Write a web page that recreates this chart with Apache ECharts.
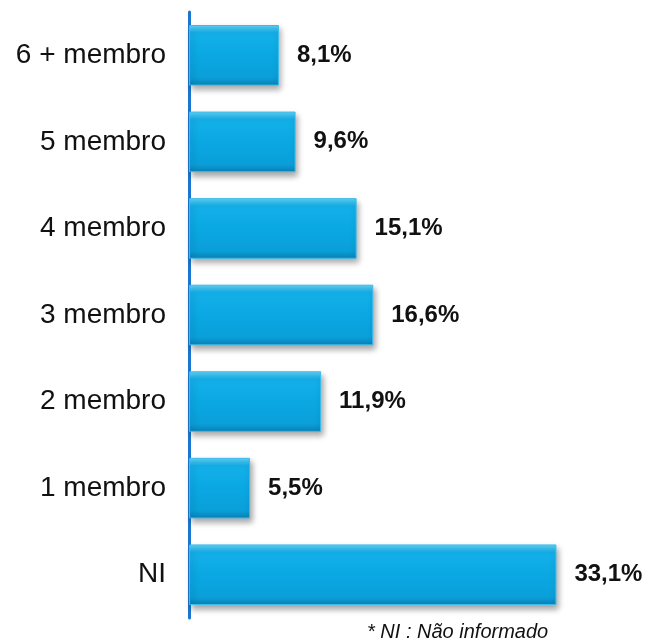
<!DOCTYPE html>
<html>
<head>
<meta charset="utf-8">
<script src="https://cdn.jsdelivr.net/npm/echarts@6/dist/echarts.min.js"></script>
<style>
  html, body { margin: 0; padding: 0; background: #fff; }
  #chart { width: 651px; height: 644px; }
</style>
</head>
<body>
<div id="chart"></div>
<script>
const categories = ['6 + membro', '5 membro', '4 membro', '3 membro', '2 membro', '1 membro', 'NI']
const values = [8.1, 9.6, 15.1, 16.6, 11.9, 5.5, 33.1]
const footnote = '* NI : Não informado'

const chart = echarts.init(document.getElementById('chart'))

// bevelled look: light top edge, darker bottom edge
const barFill = new echarts.graphic.LinearGradient(0, 0, 0, 1, [
  { offset: 0, color: '#62d2f7' },
  { offset: 0.13, color: '#14b0ea' },
  { offset: 0.5, color: '#0aa8e3' },
  { offset: 0.87, color: '#0a9fd9' },
  { offset: 1, color: '#0a80b4' }
])

chart.setOption({
  animation: false,
  grid: { left: 189, right: 18, top: 12, bottom: 26, containLabel: false },
  xAxis: {
    type: 'value',
    min: 0,
    max: 40,
    show: false
  },
  yAxis: {
    type: 'category',
    inverse: true,
    data: categories,
    axisLine: { show: true, lineStyle: { color: '#1b76d2', width: 3 } },
    axisTick: { show: false },
    axisLabel: {
      margin: 23,
      fontFamily: 'Liberation Sans',
      fontSize: 28,
      color: '#111'
    }
  },
  series: [{
    type: 'bar',
    data: values,
    barCategoryGap: '30%',
    itemStyle: {
      color: barFill,
      borderColor: '#3bbcec',
      borderWidth: 1,
      shadowColor: 'rgba(0,0,0,0.35)',
      shadowBlur: 6,
      shadowOffsetX: 2,
      shadowOffsetY: 4
    },
    label: {
      show: true,
      position: 'right',
      distance: 18,
      formatter: p => p.value.toFixed(1).replace('.', ',') + '%',
      fontFamily: 'Liberation Sans',
      fontSize: 24,
      fontWeight: 'bold',
      color: '#111'
    }
  }],
  graphic: [{
    type: 'text',
    left: 367,
    top: 622,
    style: {
      text: footnote,
      font: 'italic 20px "Liberation Sans"',
      fill: '#111'
    }
  }]
})
</script>
</body>
</html>
